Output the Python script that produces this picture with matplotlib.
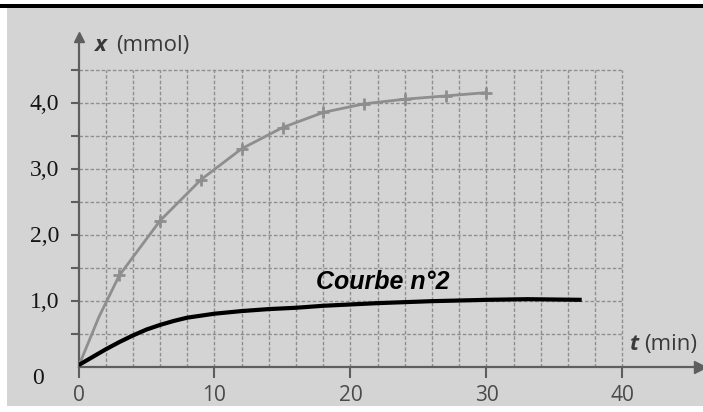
import matplotlib
matplotlib.use("Agg")
import matplotlib.pyplot as plt
from matplotlib.patches import Rectangle

# ---- data ----
t_grey = [0, 1.5, 3, 6, 9, 12, 15, 18, 21, 24, 27, 30]
x_grey = [0.0, 0.75, 1.38, 2.21, 2.83, 3.30, 3.62, 3.85, 3.98, 4.05, 4.10, 4.15]
grey_marked = [2, 3, 4, 5, 6, 7, 8, 9, 10, 11]

t_black = [0, 1, 2, 3, 4, 5, 6, 7, 8, 10, 12, 14, 16, 18, 22, 26, 30, 33, 37]
x_black = [0.02, 0.14, 0.26, 0.37, 0.47, 0.56, 0.63, 0.69, 0.74, 0.80, 0.84, 0.87,
           0.89, 0.92, 0.96, 0.99, 1.01, 1.02, 1.01]

x_ticks = [0, 10, 20, 30, 40]
x_ticklabels = ["0", "10", "20", "30", "40"]
y_ticks = [1, 2, 3, 4]
y_ticklabels = ["1,0", "2,0", "3,0", "4,0"]
grid_t = list(range(0, 41, 2))
grid_y = [0.5 * k for k in range(0, 10)]

W, H = 703, 412
fig = plt.figure(figsize=(W / 100, H / 100), dpi=100)
fig.patch.set_facecolor("white")

def fx(px):
    return px / W

def fy(py):
    return 1 - py / H

# scanned grey panel and top black rule
fig.patches.append(Rectangle((fx(7), fy(406)), fx(703) - fx(7), fy(8) - fy(406),
                             transform=fig.transFigure, facecolor="#d4d4d4",
                             edgecolor="none", zorder=-5))
fig.patches.append(Rectangle((0, fy(7.5)), 1, fy(4) - fy(7.5),
                             transform=fig.transFigure, facecolor="black",
                             edgecolor="none", zorder=-5))

x0, sx = 78.5, 13.6
y0, sy = 366.5, 66.0
right_px, top_px = 700, 37
ax = fig.add_axes([fx(x0), fy(y0), fx(right_px) - fx(x0), fy(top_px) - fy(y0)])
ax.set_facecolor("none")
ax.set_zorder(1)
ax.set_xlim(0, (right_px - x0) / sx)
ax.set_ylim(0, (y0 - top_px) / sy)

axis_col = "#5e5e5e"
grid_col = "#8e8e8e"

# grid
ax.vlines(grid_t[1:], 0, 4.5, colors=grid_col, linewidth=1.0,
          linestyles=(0, (2.5, 1.5)), zorder=1)
ax.hlines(grid_y[1:], 0, 40, colors=grid_col, linewidth=1.0,
          linestyles=(0, (2.5, 1.5)), zorder=1)

# spines / axes with arrows
for s in ["top", "right"]:
    ax.spines[s].set_visible(False)
ax.spines["left"].set_color(axis_col)
ax.spines["bottom"].set_color(axis_col)
ax.spines["left"].set_linewidth(1.6)
ax.spines["bottom"].set_linewidth(1.6)
ax.spines["left"].set_zorder(2)
ax.spines["bottom"].set_zorder(2)
ax.plot([1], [0], marker=">", color=axis_col, markersize=8,
        transform=ax.transAxes, clip_on=False)
ax.plot([0], [1], marker="^", color=axis_col, markersize=7,
        transform=ax.transAxes, clip_on=False)

ax.set_xticks(x_ticks)
ax.set_xticklabels(x_ticklabels, fontfamily="Open Sans", fontsize=15, color="#4a4a4a")
ax.set_yticks(y_ticks)
ax.set_yticklabels(y_ticklabels, fontfamily="Liberation Serif", fontsize=17, color="#151515")
ax.set_yticks(grid_y[1:], minor=True)
ax.tick_params(axis="x", direction="out", length=8, width=1.5, color=axis_col, pad=5)
ax.tick_params(axis="y", which="both", direction="out", length=6, width=1.5,
               color=axis_col, pad=8)

# curves
ax.plot(t_grey, x_grey, color="#8e8e8e", linewidth=2.0, marker="+",
        markevery=grey_marked, markersize=9, markeredgewidth=2.0, zorder=3,
        solid_capstyle="round", solid_joinstyle="round")
ax.plot(t_black, x_black, color="black", linewidth=3.0, zorder=4,
        solid_capstyle="butt", solid_joinstyle="round")

# texts
fig.text(fx(32), fy(384), "0", fontfamily="Liberation Serif", fontsize=17,
         color="#151515", ha="left", va="baseline")
fig.text(fx(94), fy(51), "x", fontfamily="Open Sans", fontsize=16,
         fontweight="bold", fontstyle="italic", color="#3a3a3a", va="baseline")
fig.text(fx(116), fy(51), "(mmol)", fontfamily="Open Sans", fontsize=16,
         color="#3a3a3a", va="baseline")
fig.text(fx(630), fy(350), "t", fontfamily="Open Sans", fontsize=16,
         fontweight="bold", fontstyle="italic", color="#3a3a3a", va="baseline")
fig.text(fx(644), fy(350), "(min)", fontfamily="Open Sans", fontsize=16,
         color="#3a3a3a", va="baseline")
fig.text(fx(316), fy(289), "Courbe n°2", fontfamily="Liberation Sans", fontsize=18,
         fontweight="bold", fontstyle="italic", color="black", va="baseline")

fig.savefig("out.png", dpi=100, facecolor="white")
